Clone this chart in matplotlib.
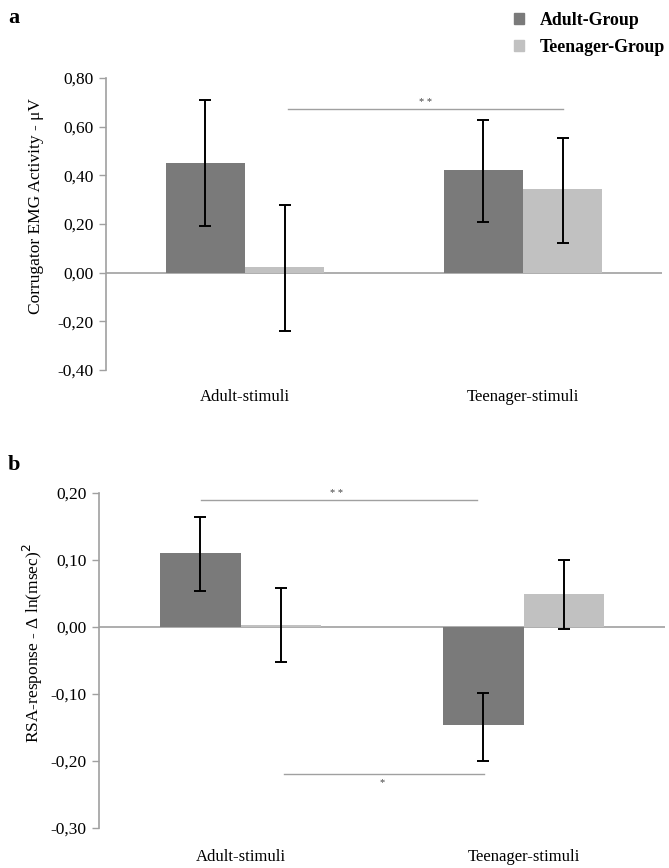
import matplotlib
matplotlib.use("Agg")
import matplotlib.pyplot as plt
import numpy as np
from matplotlib.patches import Patch

plt.rcParams['font.family'] = ['Liberation Serif', 'DejaVu Serif']

categories = ["Adult-stimuli", "Teenager-stimuli"]
groups = ["Adult-Group", "Teenager-Group"]

# Panel a: Corrugator EMG
emg_adult = [0.45, 0.42]
emg_teen = [0.025, 0.345]
emg_adult_lo = [0.19, 0.21]
emg_adult_hi = [0.71, 0.628]
emg_teen_lo = [-0.24, 0.123]
emg_teen_hi = [0.28, 0.555]
emg_ticks = [0.80, 0.60, 0.40, 0.20, 0.00, -0.20, -0.40]

# Panel b: RSA
rsa_adult = [0.11, -0.146]
rsa_teen = [0.003, 0.049]
rsa_adult_lo = [0.054, -0.200]
rsa_adult_hi = [0.164, -0.098]
rsa_teen_lo = [-0.052, -0.003]
rsa_teen_hi = [0.058, 0.100]
rsa_ticks = [0.20, 0.10, 0.00, -0.10, -0.20, -0.30]

c_adult = "#7a7a7a"
c_teen = "#c1c1c1"
axis_gray = "#a0a0a0"

fig = plt.figure(figsize=(6.69, 8.68), dpi=100)
ax_a = fig.add_axes([106/669, 1-370/868, (662-106)/669, (370-78)/868])
ax_b = fig.add_axes([99/669, 1-828/868, (665-99)/669, (828-493)/868])

w = 0.285
x = np.arange(len(categories))

def fmt(v):
    return f"{v:.2f}".replace(".", ",").replace("-0,00", "0,00")

def draw(ax, adult, teen, alo, ahi, tlo, thi, ticks, ylabel, xpad):
    xa = x - w/2
    xt = x + w/2
    ax.bar(xa, adult, width=w, color=c_adult, zorder=2)
    ax.bar(xt, teen, width=w, color=c_teen, zorder=2)
    for xs, vals, lo, hi in ((xa, adult, alo, ahi), (xt, teen, tlo, thi)):
        vals = np.array(vals); lo = np.array(lo); hi = np.array(hi)
        ax.errorbar(xs, vals, yerr=[vals - lo, hi - vals], fmt='none',
                    ecolor='black', elinewidth=1.4, capsize=4, capthick=1.4, zorder=3)
    ax.axhline(0, color=axis_gray, lw=1.2, zorder=1)
    ax.set_xlim(-0.5, 1.5)
    ax.set_ylim(min(ticks), max(ticks))
    ax.set_yticks(ticks)
    ax.set_yticklabels([fmt(t) for t in ticks], fontsize=12.5)
    ax.set_xticks(x)
    ax.set_xticklabels(categories, fontsize=12)
    ax.tick_params(axis='x', length=0, pad=xpad)
    ax.tick_params(axis='y', length=5, color=axis_gray, width=1, pad=4)
    for s in ('top', 'right', 'bottom'):
        ax.spines[s].set_visible(False)
    ax.spines['left'].set_color(axis_gray)
    ax.spines['left'].set_linewidth(1.2)
    ax.set_ylabel(ylabel, fontsize=12.5)

draw(ax_a, emg_adult, emg_teen, emg_adult_lo, emg_adult_hi, emg_teen_lo, emg_teen_hi,
     emg_ticks, "Corrugator EMG Activity - μV", 14)
draw(ax_b, rsa_adult, rsa_teen, rsa_adult_lo, rsa_adult_hi, rsa_teen_lo, rsa_teen_hi,
     rsa_ticks, "RSA-response - Δ ln(msec)$^2$", 15)
ax_a.yaxis.set_label_coords(-0.112, 0.562)
ax_b.yaxis.set_label_coords(-0.095, 0.552)

# significance lines
ax_a.plot([0.155, 1.144], [0.672, 0.672], color=axis_gray, lw=1)
ax_a.text(0.65, 0.68, "* *", ha='center', va='bottom', fontsize=7.5, color='#444444')

ax_b.plot([-0.141, 0.834], [0.19, 0.19], color=axis_gray, lw=1)
ax_b.text(0.34, 0.193, "* *", ha='center', va='bottom', fontsize=7.5, color='#444444')
ax_b.plot([0.152, 0.862], [-0.22, -0.22], color=axis_gray, lw=1)
ax_b.text(0.50, -0.226, "*", ha='center', va='top', fontsize=7.5, color='#444444')

# panel labels
fig.text(8/669, 1-18/868, "a", fontsize=16, fontweight='bold', va='center', ha='left')
fig.text(8/669, 1-465/868, "b", fontsize=16, fontweight='bold', va='center', ha='left')

# legend
handles = [Patch(color=c_adult), Patch(color=c_teen)]
fig.legend(handles, groups, loc='upper right', bbox_to_anchor=(1.0185, 1.0045),
           frameon=False, prop={'weight': 'bold', 'size': 12.8},
           handlelength=0.55, handleheight=0.55, handletextpad=0.9, labelspacing=0.55)

fig.savefig("out.png", dpi=100)
